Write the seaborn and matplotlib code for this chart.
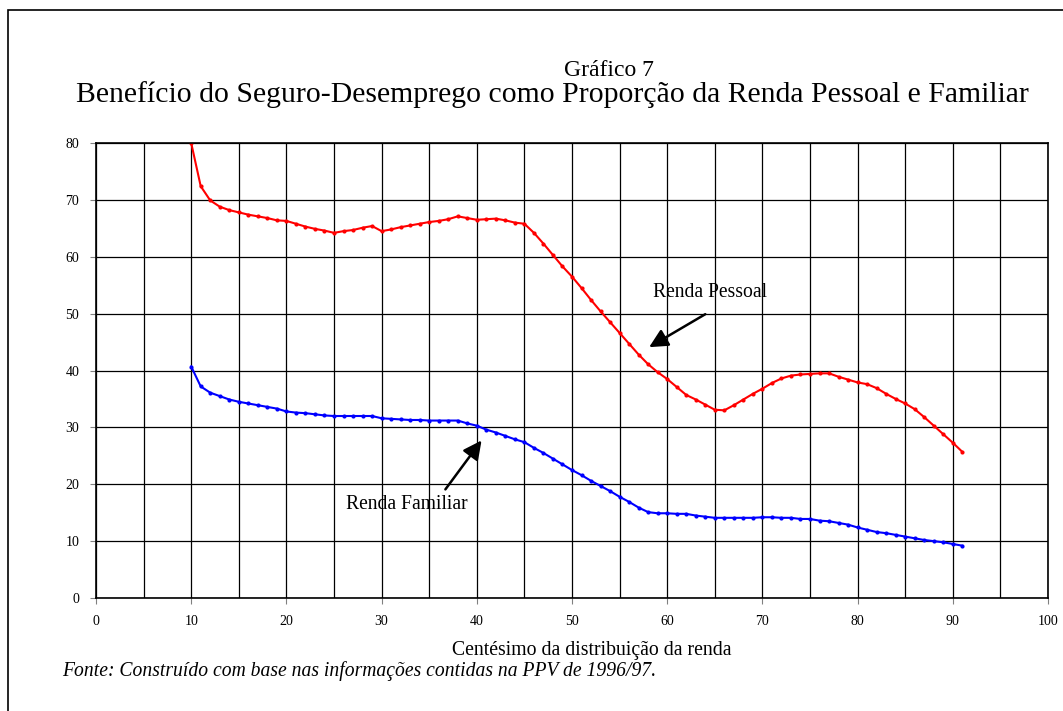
import pandas as pd
import matplotlib.pyplot as plt
import seaborn as sns
from matplotlib.patches import Rectangle

# dados (centésimos 10 a 91)
centesimo = list(range(10, 92))
pessoal = [80.0, 72.4, 69.9, 68.8, 68.2, 67.8, 67.4, 67.1, 66.8, 66.4,
           66.3, 65.8, 65.3, 64.9, 64.6, 64.2, 64.5, 64.7, 65.1, 65.4,
           64.5, 64.8, 65.2, 65.5, 65.8, 66.1, 66.3, 66.6, 67.1, 66.8,
           66.5, 66.6, 66.7, 66.4, 66.0, 65.8, 64.2, 62.3, 60.3, 58.3,
           56.5, 54.5, 52.4, 50.4, 48.5, 46.6, 44.7, 42.8, 41.1, 39.7,
           38.5, 37.1, 35.7, 34.9, 34.0, 33.1, 33.0, 33.9, 34.9, 35.9,
           36.8, 37.8, 38.6, 39.1, 39.3, 39.4, 39.5, 39.5, 38.9, 38.4,
           37.9, 37.6, 36.9, 35.9, 35.0, 34.2, 33.2, 31.8, 30.3, 28.8,
           27.3, 25.7]
familiar = [40.7, 37.2, 36.1, 35.5, 34.9, 34.5, 34.2, 33.9, 33.6, 33.3,
            32.8, 32.6, 32.5, 32.3, 32.1, 32.0, 32.0, 32.0, 32.0, 32.0,
            31.6, 31.5, 31.4, 31.3, 31.3, 31.2, 31.2, 31.2, 31.2, 30.7,
            30.3, 29.6, 29.1, 28.5, 27.9, 27.4, 26.4, 25.5, 24.5, 23.5,
            22.5, 21.6, 20.6, 19.7, 18.8, 17.8, 16.9, 15.9, 15.1, 14.9,
            14.9, 14.8, 14.8, 14.5, 14.3, 14.1, 14.1, 14.1, 14.1, 14.1,
            14.2, 14.2, 14.1, 14.1, 13.9, 13.9, 13.6, 13.5, 13.2, 12.9,
            12.4, 12.0, 11.6, 11.4, 11.1, 10.8, 10.5, 10.2, 10.0, 9.8,
            9.5, 9.2]

df = pd.DataFrame({'centesimo': centesimo, 'pessoal': pessoal, 'familiar': familiar})

plt.rcParams['font.family'] = ['Liberation Serif', 'DejaVu Serif']

# gráfico
fig = plt.figure(figsize=(10.63, 7.11), dpi=100)
ax = fig.add_axes([0.0903, 0.1589, 0.8956, 0.6400])
sns.lineplot(data=df, x='centesimo', y='pessoal', color='red', marker='o',
             markersize=3, markeredgewidth=0, linewidth=1.5, ax=ax)
sns.lineplot(data=df, x='centesimo', y='familiar', color='blue', marker='o',
             markersize=3, markeredgewidth=0, linewidth=1.5, ax=ax)

plt.xlim(0, 100)
plt.ylim(0, 80)
plt.xticks(range(0, 101, 10), fontsize=10)
plt.yticks(range(0, 81, 10), fontsize=10)
ax.set_xticks(range(0, 101, 5), minor=True)
ax.grid(True, which='both', axis='x', color='black', linewidth=0.9)
ax.grid(True, which='major', axis='y', color='black', linewidth=0.9)
ax.tick_params(which='minor', length=0)
ax.tick_params(which='major', length=4, width=0.8, color='gray', pad=8)
ax.set_axisbelow(True)
for s in ax.spines.values():
    s.set_linewidth(1.2)

plt.xlabel('Centésimo da distribuição da renda', fontsize=14.2)
plt.ylabel('')
ax.xaxis.set_label_coords(0.521, -0.095)

# setas e rótulos das séries
plt.text(64.5, 53.7, 'Renda Pessoal', fontsize=14.1, ha='center', va='center')
plt.annotate('', xy=(58.1, 44.1), xytext=(64.0, 49.9),
             arrowprops=dict(arrowstyle='-|>', color='black', lw=1.8, mutation_scale=28,
                             shrinkA=0, shrinkB=0))
plt.text(32.6, 16.4, 'Renda Familiar', fontsize=14.1, ha='center', va='center')
plt.annotate('', xy=(40.5, 27.7), xytext=(36.7, 19.1),
             arrowprops=dict(arrowstyle='-|>', color='black', lw=1.8, mutation_scale=28,
                             shrinkA=0, shrinkB=0))

fig.text(0.573, 0.893, 'Gráfico 7', ha='center', va='baseline', fontsize=17)
fig.text(0.52, 0.857, 'Benefício do Seguro-Desemprego como Proporção da Renda Pessoal e Familiar',
         ha='center', va='baseline', fontsize=21.4)
fig.text(0.058, 0.056, 'Fonte: Construído com base nas informações contidas na PPV de 1996/97.',
         ha='left', va='center', fontsize=14.1, style='italic')

fig.add_artist(Rectangle((0.0075, -0.2), 2, 1.186, transform=fig.transFigure,
                         fill=False, edgecolor='black', linewidth=1.2))

plt.savefig('out.png', dpi=100)
